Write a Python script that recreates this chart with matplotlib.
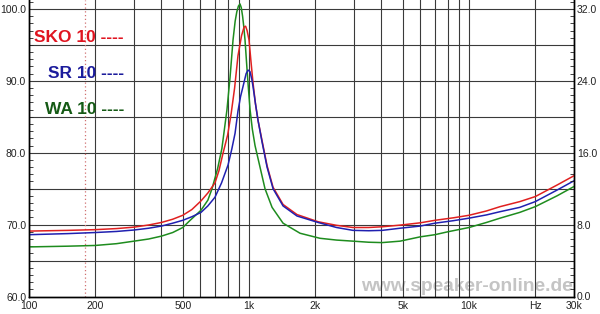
import matplotlib
matplotlib.use("Agg")
import matplotlib.pyplot as plt
from matplotlib.ticker import FixedLocator, MultipleLocator, NullFormatter

plt.rcParams["font.family"] = ["Liberation Sans", "DejaVu Sans"]

# impedance curves (left axis units)
sko_freq = [100, 150, 200, 250, 300, 350, 400, 450, 500, 550, 605, 650, 700, 730,
            760, 800, 830, 860, 891, 925, 950, 965, 980, 1000, 1020, 1043, 1070,
            1099, 1146, 1208, 1286, 1428, 1652, 2061, 2500, 2970, 3500, 4030, 4860,
            6000, 7000, 8500, 10000, 12000, 13840, 17000, 20000, 25100, 30000]
sko_vals = [69.1, 69.2, 69.3, 69.45, 69.65, 69.95, 70.3, 70.75, 71.3, 72.1, 73.3,
            74.4, 75.8, 77.5, 79.8, 82.5, 85.5, 89.0, 93.5, 96.3, 97.5, 97.6, 97.0,
            95.7, 92.8, 89.7, 86.8, 84.5, 81.7, 78.2, 75.2, 72.8, 71.4, 70.4, 69.9,
            69.6, 69.6, 69.7, 69.93, 70.25, 70.6, 70.95, 71.3, 71.9, 72.5, 73.2,
            73.9, 75.5, 76.8]

sr_freq = [100, 150, 200, 250, 300, 350, 400, 450, 500, 550, 605, 650, 700, 750,
           803, 835, 864, 891, 915, 939, 970, 990, 1010, 1030, 1043, 1070, 1099,
           1146, 1208, 1286, 1428, 1652, 2061, 2500, 2970, 3500, 4030, 4860, 6000,
           7000, 8500, 10000, 12000, 13840, 17000, 20000, 25100, 30000]
sr_vals = [68.6, 68.75, 68.9, 69.05, 69.25, 69.5, 69.8, 70.2, 70.6, 71.1, 71.7,
           72.6, 73.8, 75.8, 78.3, 80.5, 82.7, 85.8, 87.8, 89.2, 91.0, 91.5, 91.3,
           90.2, 89.2, 86.8, 84.5, 81.5, 78.0, 75.0, 72.6, 71.2, 70.3, 69.6, 69.2,
           69.15, 69.2, 69.5, 69.8, 70.2, 70.55, 70.9, 71.35, 71.8, 72.4, 73.2,
           74.8, 76.1]

wa_freq = [100, 150, 200, 250, 300, 350, 400, 450, 500, 540, 605, 650, 679, 720,
           753, 794, 820, 846, 865, 880, 895, 910, 922, 935, 947, 959, 985, 1011,
           1035, 1065, 1122, 1182, 1273, 1428, 1706, 2100, 2500, 2970, 3500, 4030,
           4860, 6000, 7000, 8000, 10000, 12000, 13840, 17000, 20000, 25100, 30000]
wa_vals = [66.9, 67.0, 67.1, 67.35, 67.7, 68.0, 68.4, 68.9, 69.6, 70.6, 72.0, 73.4,
           75.0, 77.8, 80.6, 86.0, 90.5, 95.7, 98.3, 99.6, 100.4, 100.7, 100.2,
           99.0, 97.5, 95.7, 90.5, 86.0, 83.3, 81.0, 78.0, 75.0, 72.4, 70.2, 68.8,
           68.1, 67.85, 67.7, 67.55, 67.5, 67.7, 68.3, 68.6, 69.0, 69.6, 70.3, 70.9,
           71.7, 72.5, 74.0, 75.3]

marker_freq = 180

x_ticks = [100, 200, 500, 1000, 2000, 5000, 10000, 20000, 30000]
x_labels = ["100", "200", "500", "1k", "2k", "5k", "10k", "Hz", "30k"]
left_ticks = [60, 70, 80, 90, 100]
left_labels = ["60.0", "70.0", "80.0", "90.0", "100.0"]
right_ticks = [0, 8, 16, 24, 32]
right_labels = ["0.0", "8.0", "16.0", "24.0", "32.0"]

legend = [("SKO 10 ----", "#e01420"), ("SR 10 ----", "#1c1c9c"), ("WA 10 ----", "#155a15")]

fig = plt.figure(figsize=(6, 3.14), dpi=100)
ax = fig.add_axes([29 / 600, 17.5 / 314, 545 / 600, 296.5 / 314])
ax.set_xscale("log")
ax.set_xlim(100, 30000)
ax.set_ylim(60, 101.25)

# grid
grid_x = [m * 10 ** e for e in (2, 3, 4) for m in range(1, 10) if m * 10 ** e <= 30000]
for gx in grid_x:
    ax.axvline(gx, color="#3a3a3a", lw=0.8, zorder=1)
for gy in range(65, 101, 5):
    ax.axhline(gy, color="#3a3a3a", lw=0.8, zorder=1)

ax.axvline(marker_freq, color="#d07070", lw=0.9, ls=(0, (1, 2)), zorder=2)

ax.plot(sko_freq, sko_vals, color="#e02020", lw=1.1, zorder=4)
ax.plot(sr_freq, sr_vals, color="#2020b0", lw=1.1, zorder=4)
ax.plot(wa_freq, wa_vals, color="#1e8c1e", lw=1.1, zorder=3)

ax.xaxis.set_major_locator(FixedLocator(x_ticks))
ax.xaxis.set_minor_locator(FixedLocator([]))
ax.xaxis.set_minor_formatter(NullFormatter())
ax.set_xticklabels(x_labels)
ax.set_yticks(left_ticks)
ax.set_yticklabels(left_labels)
ax.yaxis.set_minor_locator(MultipleLocator(1))
ax.tick_params(axis="x", length=0, pad=3, labelsize=7.5, colors="#222")
ax.tick_params(axis="y", which="major", length=0, pad=2, labelsize=7.5, colors="#222")
ax.tick_params(axis="y", which="minor", length=3, direction="in", color="#222")

ax2 = ax.twinx()
ax2.set_ylim(0, 33.0)
ax2.set_yticks(right_ticks)
ax2.set_yticklabels(right_labels)
ax2.yaxis.set_minor_locator(MultipleLocator(0.8))
ax2.tick_params(axis="y", which="major", length=0, pad=2, labelsize=7.5, colors="#222")
ax2.tick_params(axis="y", which="minor", length=3, direction="in", color="#222")

for a in (ax, ax2):
    a.spines["top"].set_visible(False)
    for s in ("left", "right", "bottom"):
        a.spines[s].set_color("black")
        a.spines[s].set_linewidth(1.0)

ax.text(0.997, 0.035, "www.speaker-online.de", transform=ax.transAxes,
        ha="right", va="center", fontsize=13.8, fontweight="bold",
        color="#c4c4c4", zorder=0)

ys = [37, 73, 109]
for (txt, col), yp in zip(legend, ys):
    fig.text(124 / 600, 1 - yp / 314, txt, ha="right", va="center",
             fontsize=12.5, fontweight="bold", color=col)

fig.savefig("out.png", dpi=100)
